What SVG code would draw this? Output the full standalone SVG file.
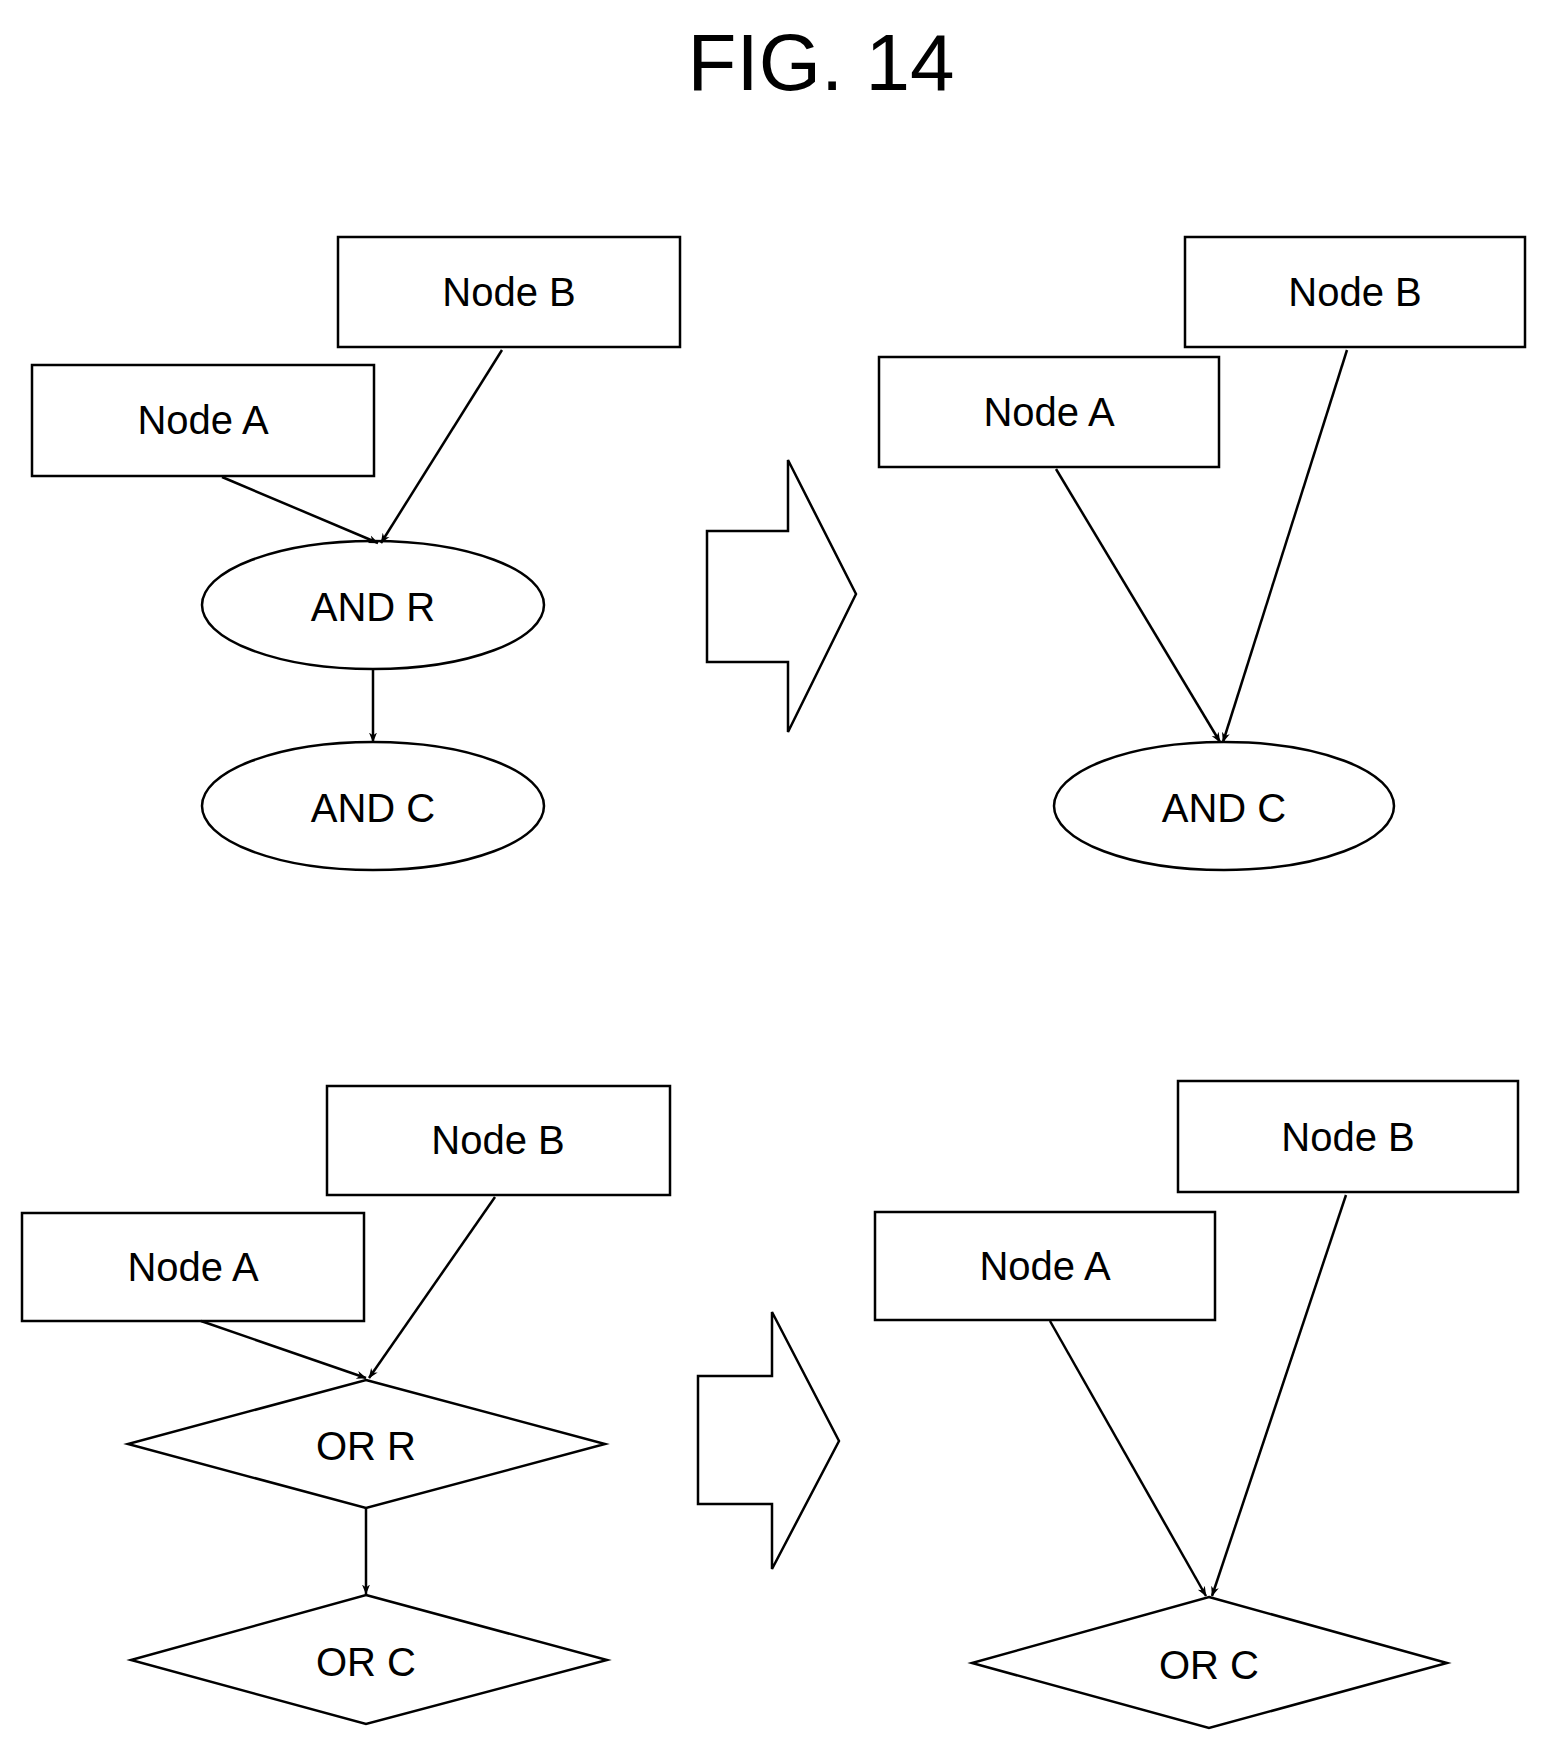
<svg xmlns="http://www.w3.org/2000/svg" width="1547" height="1751" viewBox="0 0 1547 1751">
<style>
.s{fill:#fff;stroke:#000;stroke-width:2.5}
.t{font-family:"Liberation Sans",Arial,sans-serif;font-size:40px;text-anchor:middle;dominant-baseline:central}
.c{stroke:#000;stroke-width:2.5;fill:none;marker-end:url(#a)}
</style>
<defs><marker id="a" viewBox="0 0 20 20" refX="19" refY="10" markerWidth="10" markerHeight="10" markerUnits="userSpaceOnUse" orient="auto"><path d="M0,2 L20,10 L0,18 L6,10 Z" fill="#000"/></marker></defs>
<rect width="1547" height="1751" fill="#fff"/>
<text x="821" y="62" class="t" style="font-size:80px">FIG. 14</text>
<g id="tl-b"><rect class="s" x="338" y="237" width="342" height="110"/><text class="t" x="509" y="292">Node B</text></g>
<g id="tl-a"><rect class="s" x="32" y="365" width="342" height="111"/><text class="t" x="203" y="420">Node A</text></g>
<g id="tl-r"><ellipse class="s" cx="373" cy="605" rx="171" ry="64"/><text class="t" x="373" y="607">AND R</text></g>
<g id="tl-c"><ellipse class="s" cx="373" cy="806" rx="171" ry="64"/><text class="t" x="373" y="808">AND C</text></g>
<g id="arrow1"><polygon class="s" points="707,531 788,531 788,460 856,594 788,732 788,662 707,662"/></g>
<g id="tr-b"><rect class="s" x="1185" y="237" width="340" height="110"/><text class="t" x="1355" y="292">Node B</text></g>
<g id="tr-a"><rect class="s" x="879" y="357" width="340" height="110"/><text class="t" x="1049" y="412">Node A</text></g>
<g id="tr-c"><ellipse class="s" cx="1224" cy="806" rx="170" ry="64"/><text class="t" x="1224" y="808">AND C</text></g>
<g id="bl-b"><rect class="s" x="327" y="1086" width="343" height="109"/><text class="t" x="498" y="1140">Node B</text></g>
<g id="bl-a"><rect class="s" x="22" y="1213" width="342" height="108"/><text class="t" x="193" y="1267">Node A</text></g>
<g id="bl-r"><polygon class="s" points="366,1380 605,1444 366,1508 128,1444"/><text class="t" x="366" y="1446">OR R</text></g>
<g id="bl-c"><polygon class="s" points="366,1595 607,1660 366,1724 131,1660"/><text class="t" x="366" y="1662">OR C</text></g>
<g id="arrow2"><polygon class="s" points="698,1376 772,1376 772,1312 839,1441 772,1569 772,1504 698,1504"/></g>
<g id="br-b"><rect class="s" x="1178" y="1081" width="340" height="111"/><text class="t" x="1348" y="1137">Node B</text></g>
<g id="br-a"><rect class="s" x="875" y="1212" width="340" height="108"/><text class="t" x="1045" y="1266">Node A</text></g>
<g id="br-c"><polygon class="s" points="1209,1597 1447,1663 1209,1728 972,1663"/><text class="t" x="1209" y="1665">OR C</text></g>
<g id="connectors">
<line class="c" x1="502" y1="350" x2="381" y2="543"/>
<line class="c" x1="222" y1="477" x2="378" y2="543"/>
<line class="c" x1="373" y1="669" x2="373" y2="742"/>
<line class="c" x1="1056" y1="469" x2="1220" y2="742"/>
<line class="c" x1="1347" y1="350" x2="1223" y2="742"/>
<line class="c" x1="495" y1="1197" x2="369" y2="1378"/>
<line class="c" x1="201" y1="1321" x2="366" y2="1378"/>
<line class="c" x1="366" y1="1508" x2="366" y2="1594"/>
<line class="c" x1="1050" y1="1321" x2="1206" y2="1596"/>
<line class="c" x1="1346" y1="1195" x2="1212" y2="1596"/>
</g>
</svg>
